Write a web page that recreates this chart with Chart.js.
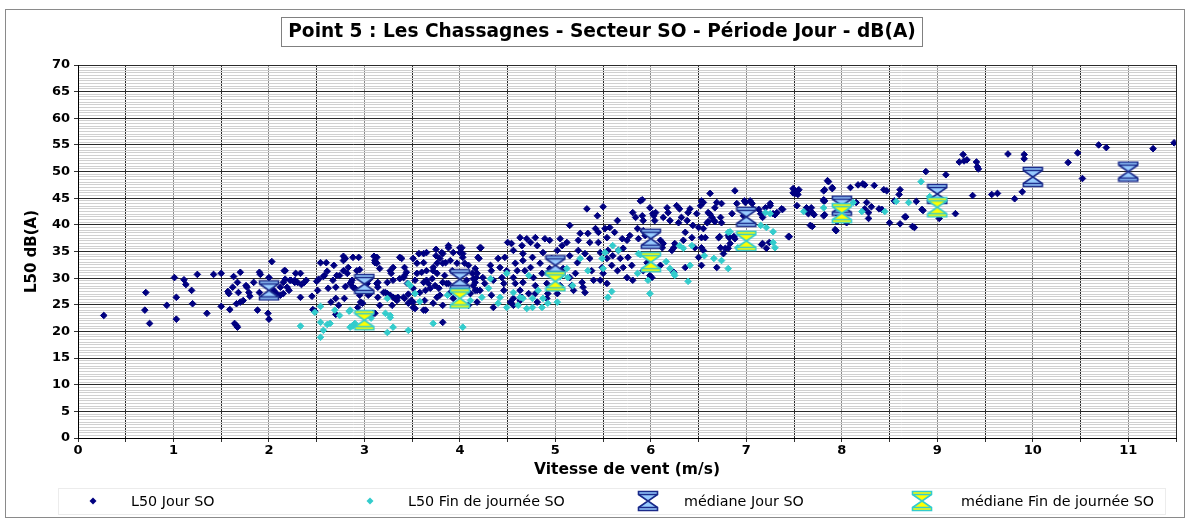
<!DOCTYPE html>
<html>
<head>
<meta charset="utf-8">
<script src="https://cdn.jsdelivr.net/npm/chart.js@4.4.1/dist/chart.umd.min.js"></script>
<style>
  html, body { margin: 0; padding: 0; background: #fff; }
</style>
</head>
<body>
<canvas id="chart" width="1190" height="520"></canvas>
<script>
const chartTitle = 'Point 5 : Les Chassagnes - Secteur SO - Période Jour - dB(A)';
const xTitle = 'Vitesse de vent (m/s)';
const yTitle = 'L50 dB(A)';
const seriesNames = ['L50 Jour SO', 'L50 Fin de journée SO', 'médiane Jour SO', 'médiane Fin de journée SO'];

// [vitesse m/s, L50 dB(A)]
const jourPoints = [
  [0.27,23.0],[0.70,24.0],[0.71,27.3],[0.75,21.5],[0.93,24.9],[1.01,30.1],[1.03,26.4],[1.03,22.3],[1.11,29.7],[1.13,28.8],
  [1.19,27.7],[1.20,25.2],[1.25,30.7],[1.35,23.4],[1.42,30.7],[1.50,30.9],[1.50,24.7],[1.57,27.5],[1.58,27.1],[1.59,24.1],
  [1.62,28.3],[1.63,30.3],[1.64,21.5],[1.66,21.1],[1.67,20.8],[1.67,29.2],[1.68,27.3],[1.70,31.1],[1.70,25.5],[1.66,25.2],
  [1.73,25.8],[1.76,28.6],[1.77,28.3],[1.79,27.3],[1.80,26.6],[1.84,29.2],[1.88,24.0],[1.90,31.1],[1.91,30.7],[1.90,27.3],
  [1.99,23.4],[2.00,22.3],[2.00,30.1],[2.03,33.1],[2.05,27.7],[2.08,27.1],[2.12,26.8],[2.12,28.3],[2.15,29.2],[2.15,27.1],
  [2.16,31.4],[2.17,29.8],[2.19,28.3],[2.21,27.7],[2.23,29.6],[2.27,29.6],[2.27,29.2],[2.30,29.2],[2.33,30.9],[2.33,26.4],
  [2.34,28.8],[2.37,29.2],[2.39,29.6],[2.17,31.4],[2.22,29.6],[2.28,30.9],
  [2.45,26.6],[2.46,24.1],[2.48,23.8],[2.50,29.4],[2.51,27.7],[2.52,29.8],[2.54,32.9],[2.60,32.9],[2.58,30.5],[2.57,30.3],
  [2.61,31.3],[2.62,28.1],[2.65,25.5],[2.67,29.6],[2.68,32.4],[2.70,28.3],[2.70,23.2],[2.70,26.2],[2.71,30.5],[2.73,24.9],
  [2.74,30.5],[2.78,34.1],[2.78,33.3],[2.78,31.4],[2.79,26.2],[2.80,28.4],[2.80,33.7],[2.82,30.9],[2.83,32.0],[2.85,29.0],
  [2.86,29.2],[2.87,29.6],[2.88,33.9],[2.88,28.3],[2.90,28.1],[2.92,31.4],[2.93,24.5],[2.94,33.9],[2.95,31.6],[2.95,26.8],
  [2.96,25.5],[2.98,25.3],[3.03,29.0],[3.04,26.8],[3.06,29.9],[3.06,27.1],[3.09,23.4],[3.10,34.1],[3.11,33.3],[3.11,32.9],
  [3.11,23.4],[3.13,32.8],[3.13,29.0],[3.13,33.9],[3.14,28.3],[3.14,26.4],[3.14,29.2],[3.16,24.9],[3.16,31.8],[3.20,27.3],
  [3.22,27.3],[3.24,27.1],[3.24,29.2],[3.27,31.4],[3.27,26.8],[3.28,30.9],[3.29,24.9],[3.30,26.4],[3.30,32.0],[3.30,29.6],
  [3.32,26.2],[3.34,25.8],[3.35,26.4],[3.37,29.9],[3.37,33.9],[3.39,33.7],[3.41,30.1],[3.42,32.0],[3.42,30.5],[3.42,26.2],
  [3.44,31.1],[3.46,25.3],[3.46,27.0],[3.45,29.0],[3.41,26.4],
  [3.49,25.8],[3.51,28.1],[3.51,25.5],[3.51,24.5],[3.53,29.6],[3.53,24.3],[3.55,32.8],[3.57,34.6],[3.58,27.3],[3.60,31.1],
  [3.62,34.6],[3.62,32.9],[3.62,29.2],[3.62,24.0],[3.63,25.8],[3.64,27.7],[3.65,34.8],[3.65,31.4],[3.67,29.0],[3.69,28.1],
  [3.71,29.9],[3.72,32.0],[3.74,28.6],[3.75,35.4],[3.76,32.8],[3.76,30.9],[3.76,26.4],[3.78,28.1],[3.79,33.7],[3.82,34.6],
  [3.82,29.2],[3.82,21.7],[3.85,32.9],[3.88,36.1],[3.88,29.0],[3.90,27.3],[3.93,34.8],[3.93,26.2],[3.95,27.7],[4.00,35.7],
  [4.02,27.9],[4.03,34.6],[4.05,32.8],[4.07,29.6],[4.11,27.1],[4.14,29.9],[4.18,30.9],[3.51,33.7],[3.55,30.9],[3.65,29.6],
  [3.72,31.4],[3.75,34.2],[3.81,34.8],[3.82,32.8],[3.84,30.5],[3.86,29.0],[3.88,35.7],[3.90,33.3],[3.92,31.4],[3.97,32.8],
  [4.00,34.8],[4.02,35.7],[4.03,33.9],[4.09,32.4],[4.13,30.9],[4.16,29.2],[4.19,33.9],[4.21,35.7],[4.16,27.7],[4.03,27.3],
  [3.93,28.1],[3.79,26.8],[3.72,25.3],[3.64,24.0],[3.82,24.9],[4.09,24.9],[4.21,27.7],
  [4.22,35.7],[4.20,33.7],[4.16,31.8],[4.17,30.1],[4.14,28.6],[4.18,27.7],[4.24,30.1],[4.26,29.0],[4.32,32.4],[4.33,31.4],
  [4.35,29.6],[4.33,26.8],[4.35,24.5],[4.40,33.7],[4.42,32.0],[4.44,30.1],[4.46,29.0],[4.46,27.7],[4.47,33.9],[4.49,31.4],
  [4.50,36.7],[4.54,36.5],[4.56,35.2],[4.58,32.8],[4.60,31.4],[4.56,30.1],[4.58,29.0],[4.56,26.2],[4.56,24.9],[4.63,37.6],
  [4.65,36.1],[4.66,34.6],[4.66,33.3],[4.68,31.4],[4.66,29.2],[4.63,27.7],[4.65,26.4],[4.70,37.4],[4.74,36.7],[4.76,33.9],
  [4.74,32.0],[4.77,30.1],[4.79,28.6],[4.79,27.1],[4.79,37.6],[4.81,36.1],[4.84,32.8],[4.86,30.9],[4.87,34.8],[4.89,37.4],
  [4.91,29.0],[4.92,27.1],[4.94,37.1],[4.96,33.7],[4.94,31.8],[5.02,35.2],[5.05,37.4],[5.07,36.1],[5.08,31.8],[5.05,28.6],
  [5.12,36.7],[5.15,39.9],[5.15,34.2],[5.17,28.6],[5.19,27.7],[5.21,30.9],[5.23,32.9],[5.24,35.2],[5.24,37.1],[5.26,38.4],
  [5.28,29.2],[5.29,28.3],[5.31,27.3],[5.31,34.6],[5.33,43.0],[5.34,38.4],[5.36,36.7],[5.36,33.7],[5.38,31.4],[5.40,29.6],
  [5.42,39.3],[5.44,41.7],[5.45,38.6],[5.45,36.7],[5.47,34.8],[5.49,32.0],[5.50,43.4],[5.50,30.9],[5.52,39.3],[5.54,37.6],
  [5.54,33.7],[5.55,35.2],[5.57,39.5],[5.59,32.4],[5.60,34.2],[5.62,38.6],[5.65,40.8],[5.66,35.2],[5.68,33.7],[5.70,37.4],
  [5.71,35.6],[5.75,37.1],[5.76,33.9],[5.78,38.0],[5.81,42.3],[5.84,41.4],[5.86,39.3],[5.87,37.4],[5.89,44.5],[5.91,41.7],
  [5.92,40.8],[6.02,42.1],[6.04,40.8],[6.01,30.1],[4.18,25.5],[4.53,25.5],[4.63,25.8],[4.72,27.1],[4.91,26.2],[5.02,27.1],
  [4.81,25.5],[5.15,30.1],[5.65,31.4],[5.71,32.0],[5.80,32.4],[5.75,30.1],[5.81,29.6],[5.92,31.4],[5.96,32.9],[5.54,29.0],
  [5.47,29.6],
  [5.91,44.7],[5.92,38.9],[5.99,43.2],[6.03,41.7],[6.05,42.3],[5.94,38.0],[6.10,37.1],[6.13,36.5],[6.12,35.7],[6.13,41.4],
  [6.17,43.2],[6.18,42.3],[6.20,40.8],[6.22,35.2],[6.24,35.7],[6.25,36.5],[6.27,43.6],[6.29,40.4],[6.30,43.0],[6.32,41.4],
  [6.34,37.1],[6.36,38.6],[6.38,40.8],[6.39,42.3],[6.41,43.0],[6.43,37.6],[6.44,39.9],[6.46,35.7],[6.48,42.1],[6.50,39.5],
  [6.52,43.6],[6.53,44.5],[6.55,44.2],[6.53,35.7],[6.55,35.2],[6.50,33.9],[6.57,37.6],[6.59,40.4],[6.60,42.3],[6.62,45.9],
  [6.64,41.4],[6.66,40.8],[6.67,43.2],[6.69,44.2],[6.71,37.6],[6.73,41.4],[6.74,44.0],[6.73,35.7],[6.76,34.6],[6.78,35.6],
  [6.81,35.6],[6.74,40.4],[6.69,32.0],[6.53,32.4],[6.36,32.0],[6.10,32.4],[5.99,30.5],[6.24,31.1],[6.81,38.0],[6.83,36.5],
  [6.85,42.1],[6.88,46.4],[6.88,37.4],[6.90,44.0],[6.97,41.7],[6.99,44.2],[7.04,44.5],[7.06,44.0],[7.07,43.0],[7.15,42.1],
  [7.17,36.5],[7.20,43.2],[7.21,35.6],[7.25,44.0],[7.28,42.1],[7.32,42.3],[7.37,43.0],[7.44,37.8],[7.49,46.8],[7.51,45.9],
  [7.54,46.4],[7.53,43.6],[7.63,43.2],[7.65,42.1],[7.69,42.3],[7.67,39.9],[7.81,46.4],[7.81,44.5],[7.81,41.7],[7.85,48.3],
  [6.67,40.6],[6.62,42.0],[6.60,40.6],[6.55,39.3],[6.53,37.6],[6.72,37.8],[6.82,37.6],[6.87,37.8],[6.98,44.5],[7.00,40.6],
  [7.13,42.9],[7.17,41.4],[7.25,43.6],[7.30,41.9],[7.38,42.9],[7.24,36.7],[7.16,36.3],[7.45,37.8],[7.49,46.0],[7.55,46.6],
  [7.54,45.7],[7.64,42.5],[7.68,43.2],[7.71,41.9],[7.69,39.7],[7.82,44.5],[7.82,41.9],[7.86,48.1],[7.90,46.8],[7.94,38.9],
  [7.95,40.6],[8.05,40.4],[8.09,47.0],[8.17,47.5],[8.24,47.5],[8.26,44.2],[8.28,42.3],[8.34,47.4],[8.42,42.9],[8.47,46.4],
  [8.50,40.4],[8.55,44.5],[8.61,46.6],[8.61,40.2],[8.67,41.5],[8.76,39.5],[8.78,44.4],[8.85,42.7],[8.88,50.0],[9.02,41.2],
  [9.09,49.4],[9.19,42.1],[7.82,46.6],[7.90,47.0],[7.81,44.7],[7.93,39.1],[7.95,42.1],[8.15,44.2],[8.22,47.7],[8.24,43.0],
  [8.28,41.2],[8.31,43.4],[8.39,43.0],[8.44,46.6],[8.60,45.7],[8.66,41.5],[8.74,39.7],[8.84,42.9],
  [9.23,51.8],[9.27,53.2],[9.28,52.0],[9.31,52.2],[9.41,51.8],[9.42,50.9],[9.43,50.5],[9.37,45.5],[9.57,45.7],[9.63,45.9],
  [9.74,53.3],[9.81,44.9],[9.89,46.2],[9.91,53.2],[9.91,52.4],[10.37,51.7],[10.47,53.5],[10.52,48.7],[10.69,55.0],[10.77,54.5],
  [11.26,54.3],[11.48,55.4]
];

const finPoints = [
  [2.33,21.0],[2.48,23.6],[2.54,24.7],[2.54,21.7],[2.54,18.9],[2.57,20.2],[2.61,21.3],[2.64,21.5],[2.69,24.0],[2.74,23.0],
  [2.84,23.8],[2.85,20.8],[2.88,21.1],[2.90,21.5],[2.85,24.0],[2.87,21.0],[3.07,22.5],[3.22,23.4],[3.24,19.8],[3.24,26.2],
  [3.27,23.0],[3.30,20.8],[3.27,22.6],[3.46,20.2],[3.46,29.0],[3.48,28.6],[3.53,27.1],[3.58,25.6],[3.72,21.5],[3.87,26.8],
  [4.03,20.8],[4.11,25.8],
  [4.23,26.4],[4.30,28.1],[4.32,29.9],[4.40,25.3],[4.42,26.4],[4.49,24.5],[4.49,30.9],[4.56,27.3],[4.61,24.9],[4.63,26.4],
  [4.66,26.2],[4.72,30.5],[4.70,24.3],[4.76,24.5],[4.76,26.2],[4.82,27.7],[4.86,24.5],[4.87,26.2],[4.92,25.3],[5.02,25.5],
  [5.05,30.3],[5.12,31.8],[5.13,30.1],[5.18,28.6],[5.26,33.7],[5.34,31.4],[5.49,33.7],[5.50,31.8],[5.52,34.8],[5.55,26.4],
  [5.59,27.5],[5.60,36.1],[5.66,35.2],[5.86,30.9],[5.87,34.6],[5.89,34.4],[5.97,29.6],[5.99,27.1],
  [6.16,33.1],[6.20,31.8],[6.24,30.9],[6.25,30.5],[6.30,36.1],[6.34,35.6],[6.39,29.4],[6.41,32.4],[6.43,36.1],[6.56,34.2],
  [6.66,33.7],[6.74,33.3],[6.81,31.8],[6.81,38.6],[6.83,38.7],[6.91,35.7],[7.15,39.9],[7.20,42.3],[7.21,39.5],[7.25,42.1],
  [7.28,38.7],[7.28,36.7],[7.30,35.7],[7.60,42.5],[7.81,43.2],[8.12,44.2],[8.21,42.5],[8.45,42.5],[8.57,44.4],[8.70,44.2],
  [8.83,48.1],[8.92,45.3]
];

const medianJourX = [2, 3, 4, 5, 6, 7, 8, 9, 10, 11];
const medianJourY = [27.7, 28.9, 29.8, 32.4, 37.4, 41.5, 43.6, 45.8, 49.0, 50.0];
const medianFinX = [3, 4, 5, 6, 7, 8, 9];
const medianFinY = [22.1, 26.2, 29.4, 33.0, 37.0, 42.2, 43.3];

const font = "'DejaVu Sans'";
const navy = '#000080';
const cyan = '#33cccc';

function hourglass(fill, stroke) {
    const c = document.createElement('canvas');
    c.width = 22;
    c.height = 22;
    const g = c.getContext('2d');
    const a = 1.5, b = 20.5, m = 11, bar = 3;
    g.beginPath();
    g.moveTo(a, a); g.lineTo(b, a); g.lineTo(b, a + bar); g.lineTo(m, m);
    g.lineTo(b, b - bar); g.lineTo(b, b); g.lineTo(a, b); g.lineTo(a, b - bar);
    g.lineTo(m, m); g.lineTo(a, a + bar); g.closePath();
    g.fillStyle = fill;
    g.fill();
    g.lineWidth = 1.6;
    g.strokeStyle = stroke;
    g.stroke();
    g.beginPath();
    g.moveTo(a, a + bar); g.lineTo(b, a + bar);
    g.moveTo(a, b - bar); g.lineTo(b, b - bar);
    g.stroke();
    return c;
}

const hgJour = hourglass('#99ccff', '#1a2a8a');
const hgFin = hourglass('#ffff00', '#33cccc');

const toXY = p => ({ x: p[0], y: p[1] });

// frame, boxed title and the legend strip
const decor = {
    id: 'decor',
    beforeDraw(chart) {
        const ctx = chart.ctx;
        ctx.save();
        ctx.fillStyle = '#fff';
        ctx.fillRect(0, 0, chart.width, chart.height);
        ctx.strokeStyle = '#8a8a8a';
        ctx.lineWidth = 1;
        ctx.strokeRect(5.5, 9.5, 1179, 508);
        ctx.restore();
    },
    afterDraw(chart) {
        const ctx = chart.ctx;
        ctx.save();

        // title
        ctx.strokeStyle = '#808080';
        ctx.lineWidth = 1;
        ctx.strokeRect(281.5, 17.5, 641, 29);
        ctx.fillStyle = '#000';
        ctx.font = "bold 18.6px " + font;
        ctx.textAlign = 'center';
        ctx.textBaseline = 'middle';
        ctx.fillText(chartTitle, 602, 32);

        // legend
        ctx.strokeStyle = '#ececec';
        ctx.strokeRect(58.5, 488.5, 1107, 26);
        const ly = 501;
        const markX = [93, 370, 648, 922];
        const textX = [131, 408, 684, 961];
        ctx.font = "14.3px " + font;
        ctx.textAlign = 'left';
        seriesNames.forEach((name, i) => {
            if (i < 2) {
                ctx.fillStyle = i === 0 ? navy : cyan;
                ctx.beginPath();
                ctx.moveTo(markX[i], ly - 3.5);
                ctx.lineTo(markX[i] + 3.5, ly);
                ctx.lineTo(markX[i], ly + 3.5);
                ctx.lineTo(markX[i] - 3.5, ly);
                ctx.closePath();
                ctx.fill();
            } else {
                const img = i === 2 ? hgJour : hgFin;
                ctx.drawImage(img, markX[i] - 11, ly - 11);
            }
            ctx.fillStyle = '#000';
            ctx.fillText(name, textX[i], ly + 1);
        });
        ctx.restore();
    }
};

new Chart(document.getElementById('chart'), {
    type: 'scatter',
    data: {
        datasets: [
            {
                label: seriesNames[0],
                data: jourPoints.map(toXY),
                pointStyle: 'rectRot',
                pointRadius: 3.3,
                borderWidth: 1,
                backgroundColor: navy,
                borderColor: navy,
                order: 4
            },
            {
                label: seriesNames[1],
                data: finPoints.map(toXY),
                pointStyle: 'rectRot',
                pointRadius: 3.3,
                borderWidth: 1,
                backgroundColor: cyan,
                borderColor: cyan,
                order: 3
            },
            {
                label: seriesNames[2],
                data: medianJourX.map((x, i) => ({ x, y: medianJourY[i] })),
                pointStyle: hgJour,
                order: 2
            },
            {
                label: seriesNames[3],
                data: medianFinX.map((x, i) => ({ x, y: medianFinY[i] })),
                pointStyle: hgFin,
                order: 1
            }
        ]
    },
    options: {
        responsive: false,
        devicePixelRatio: 1,
        animation: false,
        events: [],
        layout: { padding: { top: 65, right: 14, bottom: 36, left: 0 } },
        plugins: {
            legend: { display: false },
            title: { display: false },
            tooltip: { enabled: false }
        },
        scales: {
            x: {
                type: 'linear',
                min: 0,
                max: 11.5,
                afterFit: s => { s.height = 46; },
                border: { color: '#000', width: 1 },
                grid: {
                    color: c => (c.tick.value % 1 === 0.5 ? '#2a2a2a' : '#8c8c8c'),
                    tickColor: '#333',
                    tickLength: 4
                },
                ticks: {
                    stepSize: 0.5,
                    autoSkip: false,
                    maxRotation: 0,
                    padding: 1,
                    color: '#000',
                    font: { family: font, size: 13, weight: 'bold' },
                    callback: v => (Number.isInteger(v) ? v : '')
                },
                title: {
                    display: true,
                    text: xTitle,
                    color: '#000',
                    font: { family: font, size: 15.5, weight: 'bold' },
                    padding: { top: 0, bottom: 5 }
                }
            },
            y: {
                min: 0,
                max: 70,
                afterFit: s => { s.width = 78; },
                border: { color: '#000', width: 1 },
                grid: {
                    color: c => (c.tick.value % 5 === 0 ? '#2a2a2a' : '#d0d0d0'),
                    tickColor: c => (c.tick.value % 5 === 0 ? '#333' : 'rgba(0,0,0,0)'),
                    tickLength: 4
                },
                ticks: {
                    stepSize: 0.5,
                    autoSkip: false,
                    maxTicksLimit: 200,
                    padding: 4,
                    color: '#000',
                    font: { family: font, size: 13, weight: 'bold' },
                    callback: v => (v % 5 === 0 ? v : '')
                },
                title: {
                    display: true,
                    text: yTitle,
                    color: '#000',
                    font: { family: font, size: 15, weight: 'bold' },
                    padding: { top: 23, bottom: 0 }
                }
            }
        }
    },
    plugins: [decor]
});
</script>
</body>
</html>
